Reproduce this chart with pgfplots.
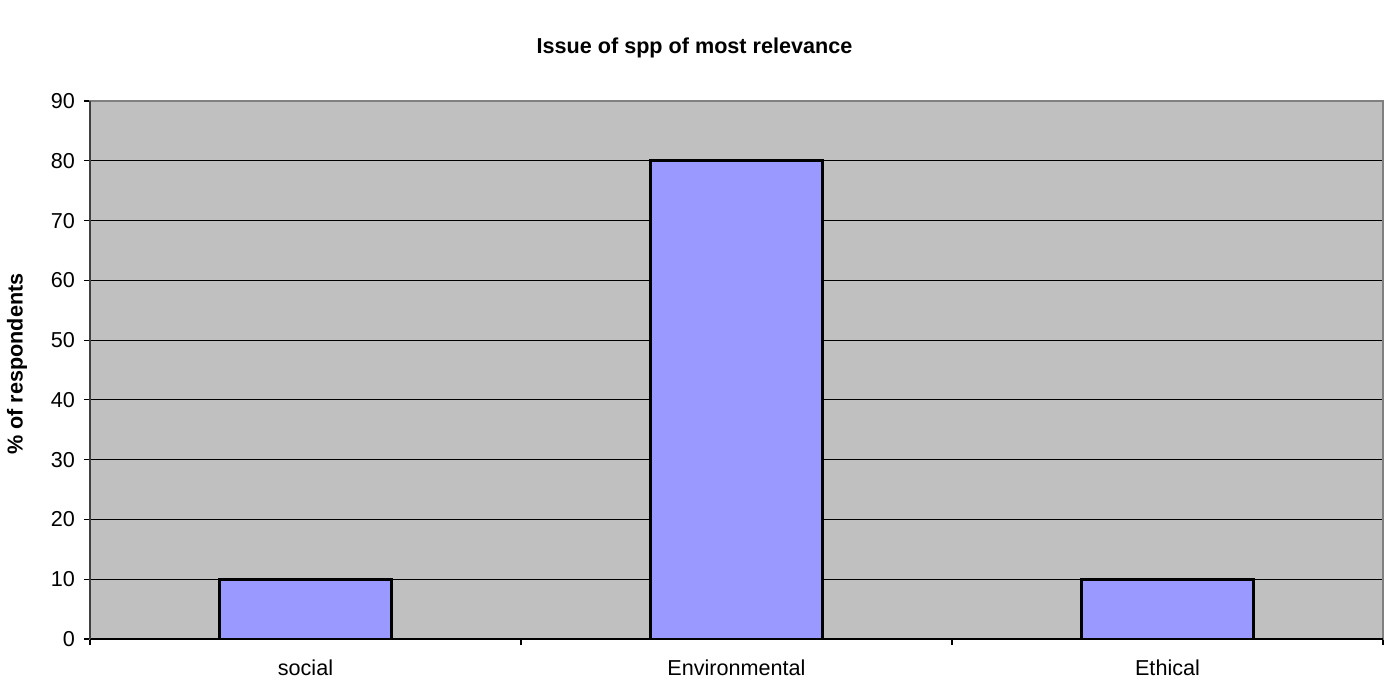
\documentclass[border=0pt]{standalone}
\usepackage{pgfplots}
\pgfplotsset{compat=1.18}
\usepackage{fontspec}
\setmainfont{Liberation Sans}
\definecolor{plotbg}{RGB}{192,192,192}
\definecolor{barfill}{RGB}{153,153,255}
\definecolor{frame}{RGB}{128,128,128}

\begin{document}
\begin{tikzpicture}
\begin{axis}[
  name=ax,
  at={(0,0)}, anchor=south west,
  scale only axis,
  width=646.5pt, height=269pt,
  xmin=0.5, xmax=3.5,
  ymin=0, ymax=90,
  ytick={0,10,...,90},
  xtick={1,2,3},
  xticklabels={social,Environmental,Ethical},
  minor xtick={0.5,1.5,2.5,3.5},
  major x tick style={draw=none},
  minor tick length=3pt,
  major tick length=3pt,
  tick align=outside,
  tick pos=left,
  ymajorgrids,
  grid style={black, line width=0.6pt},
  axis background/.style={fill=plotbg},
  axis line style={frame, line width=1pt},
  tick style={black, line width=0.6pt},
  ticklabel style={font=\fontsize{10.8}{13}\selectfont},
  /pgf/number format/assume math mode=true,
  xticklabel style={yshift=-4pt},
  yticklabel style={xshift=-1pt},
  clip=false,
]
\addplot[ybar, bar width=0.4, fill=barfill, draw=black, line width=1.4pt]
  coordinates {(1,10) (2,80) (3,10)};
\draw[black, line width=0.8pt] (rel axis cs:0,0) -- (rel axis cs:1,0);
\draw[black!75, line width=0.8pt] (rel axis cs:0,0) -- (rel axis cs:0,1);
\end{axis}
\pgfresetboundingbox
\path[use as bounding box] (-45pt,-20.5pt) rectangle (649.5pt,319.5pt);
\node[font=\fontsize{10.8}{13}\selectfont\bfseries, rotate=90] at (-36.5pt,137.5pt) {\% of respondents};
\node[font=\fontsize{10.8}{13}\selectfont\bfseries] at (302.25pt,295.5pt) {Issue of spp of most relevance};
\end{tikzpicture}
\end{document}
